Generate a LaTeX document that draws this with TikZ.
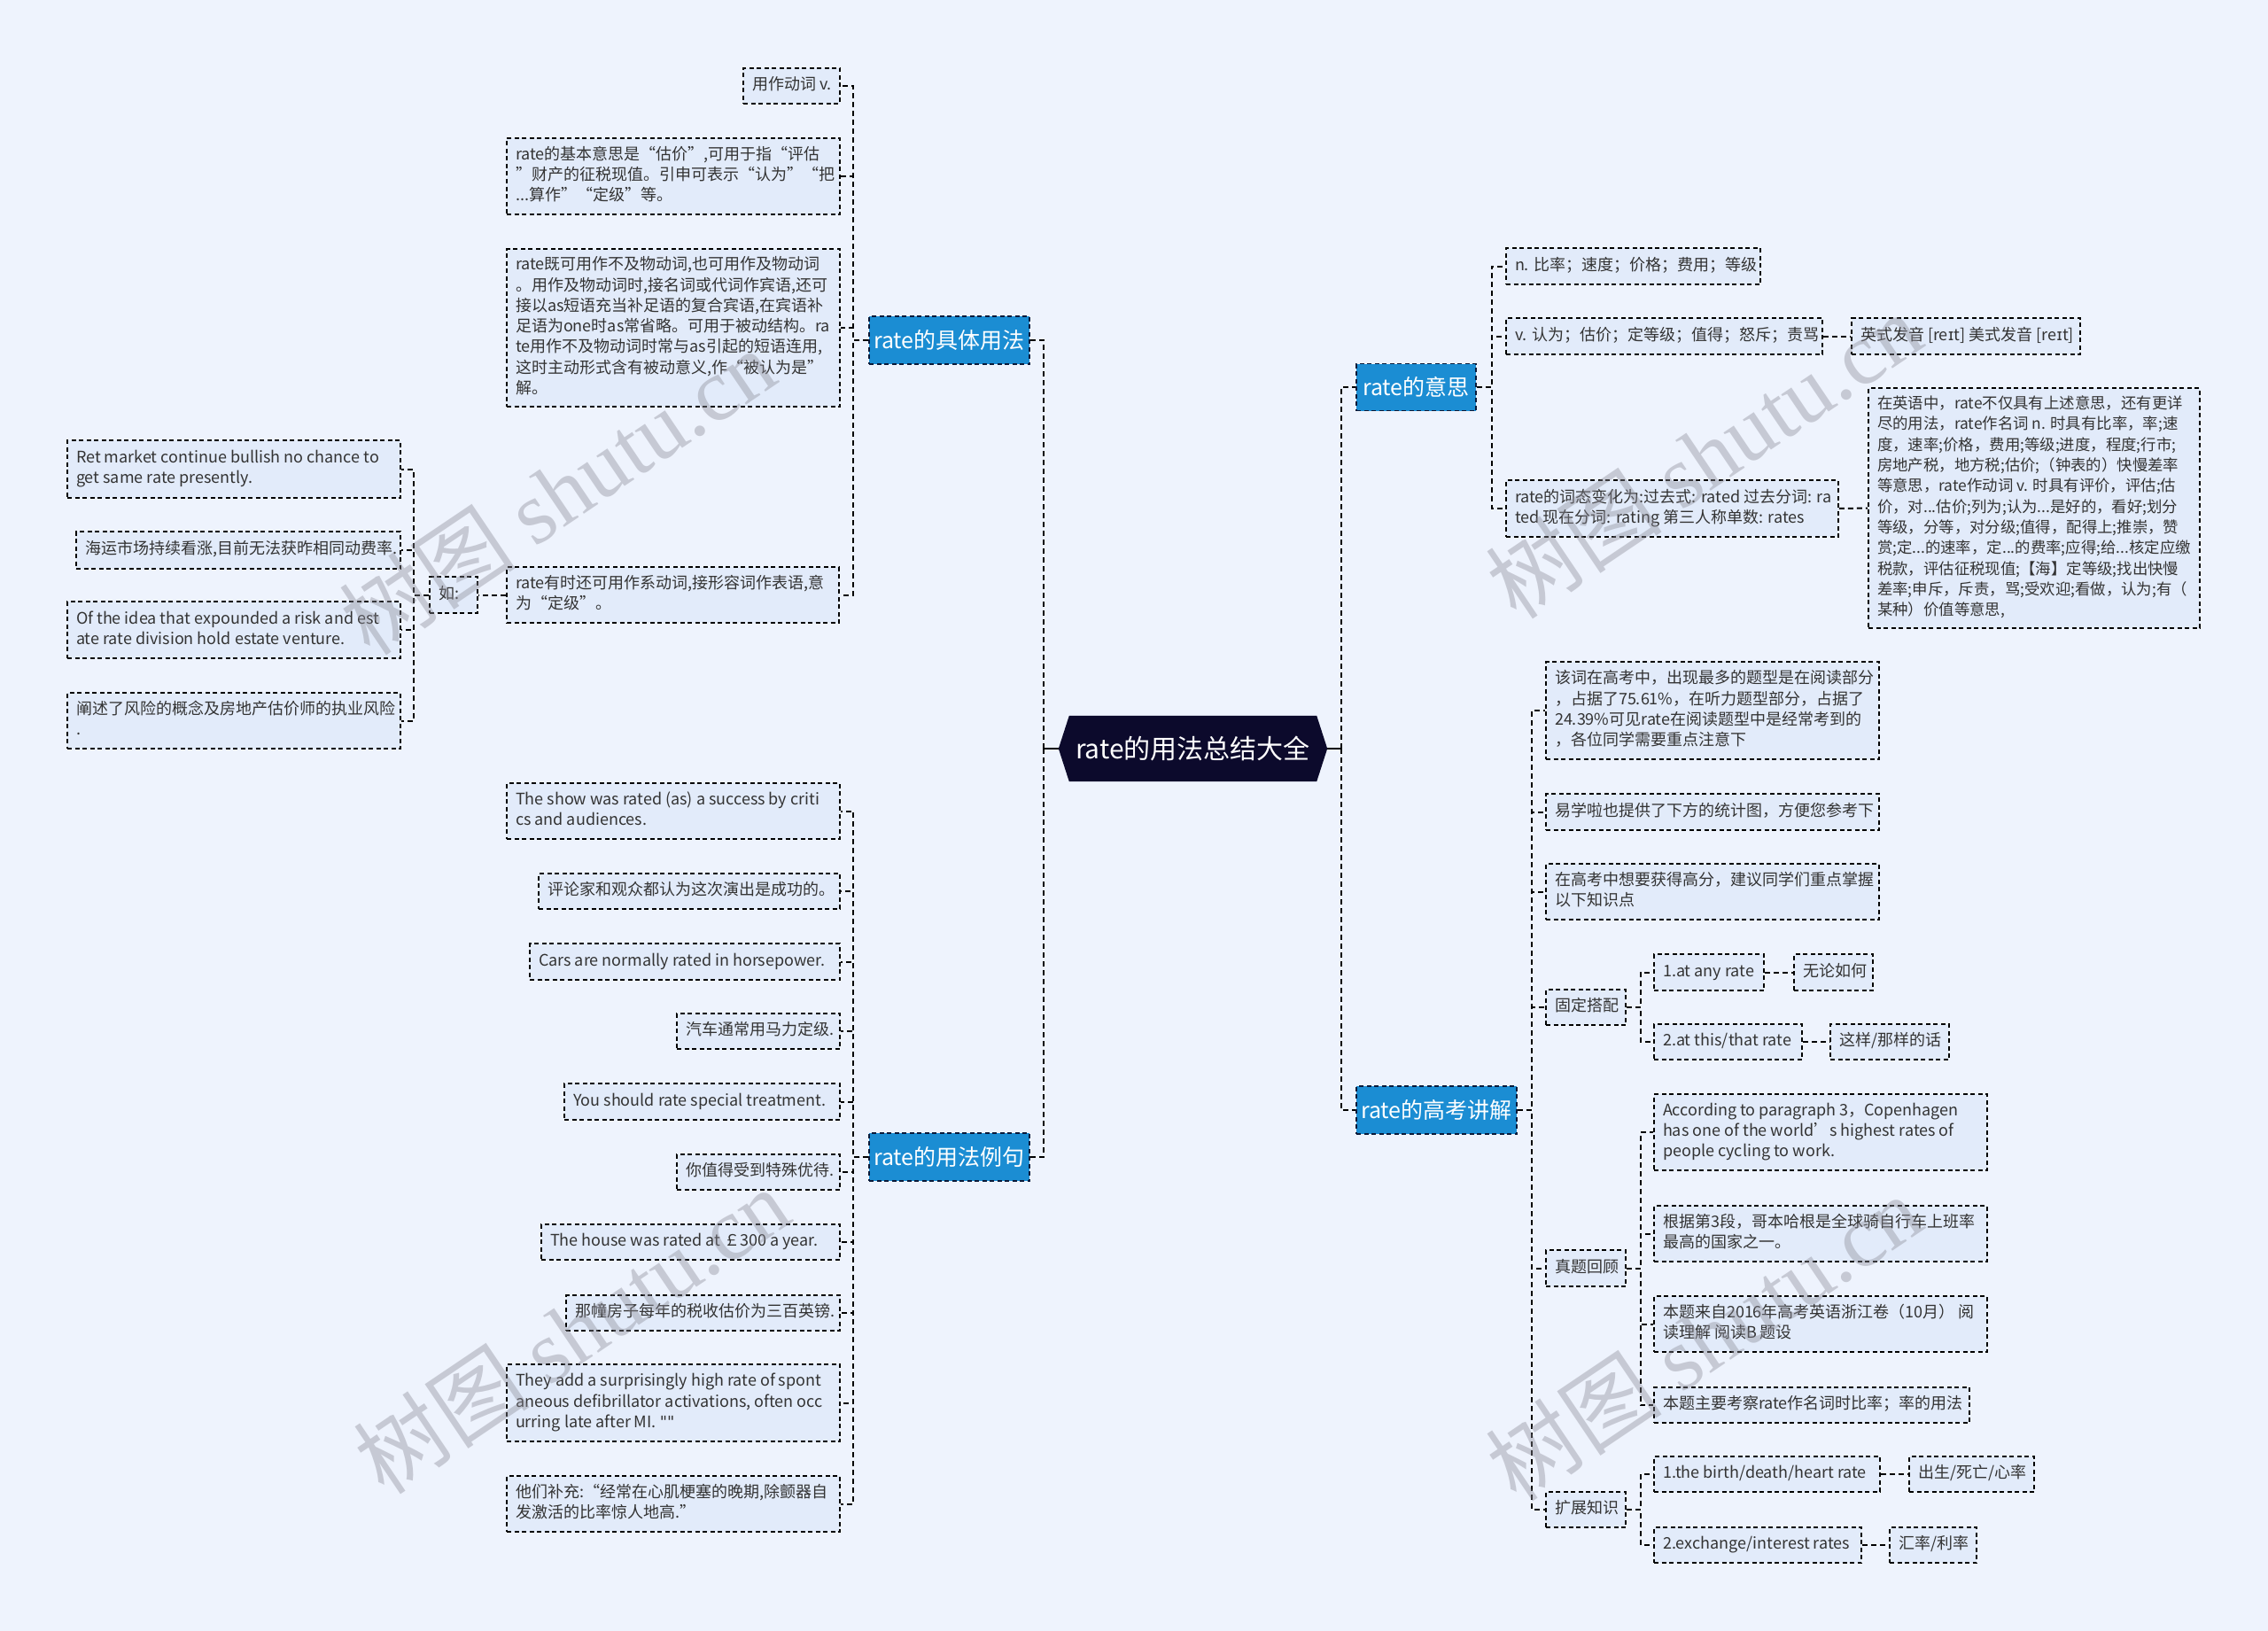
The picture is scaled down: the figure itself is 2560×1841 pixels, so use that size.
\documentclass[tikz,border=0pt]{standalone}
\usepackage{fontspec}
\setmainfont{Noto Sans CJK SC}
\newfontfamily\wmlatin{Liberation Serif}
\newfontfamily\ipafont{DejaVu Sans}
\usetikzlibrary{backgrounds}
\definecolor{bgc}{HTML}{EEF3FD}
\definecolor{leaffill}{HTML}{E2EBFA}
\definecolor{bluefill}{HTML}{1B8DD3}
\definecolor{navy}{HTML}{0C0A2C}
\definecolor{bordernavy}{HTML}{0A1A3A}
\definecolor{textc}{HTML}{333333}
\definecolor{wmgray}{HTML}{8C8C98}
\tikzset{
  leaf/.style={draw=black, dash pattern=on 5pt off 3.5pt, line width=1.6pt, fill=leaffill,
    inner xsep=10pt, inner ysep=0pt, text=textc, font=\fontsize{18}{23.3}\selectfont},
  branch/.style={draw=bordernavy, dash pattern=on 5pt off 3.5pt, line width=1.6pt, fill=bluefill,
    inner sep=0pt, text=white, font=\fontsize{25}{30}\selectfont},
  rootnode/.style={inner sep=0pt, text=white, font=\fontsize{30}{36}\selectfont,
    minimum width=303pt, minimum height=74pt},
  conn/.style={draw=black, line width=2pt, dash pattern=on 6pt off 4pt},
  stub/.style={draw=black, line width=2pt},
  wm/.style={text=wmgray, opacity=0.4, font=\fontsize{100}{110}\selectfont, rotate=34, inner sep=0pt}
}
\newcommand\leafbox[7][]{%
  \pgfmathsetmacro\lbw{#5-#3-20}%
  \pgfmathsetmacro\lbh{#6-#4}%
  \pgfmathsetmacro\lbx{(#3+#5)/2}%
  \pgfmathsetmacro\lby{(#4+#6)/2}%
  \node[leaf, #1, minimum height=\lbh pt] (#2) at (\lbx,\lby) {\makebox[\lbw pt][l]{\begin{tabular}{@{}l@{}}#7\end{tabular}}};}
\begin{document}
\begin{tikzpicture}[x=1pt,y=-1pt]
\useasboundingbox (0,0) rectangle (2560,1841);
% root and branches
\node[rootnode] (root) at (1346.5,845) {rate的用法总结大全};
\node[branch, minimum width=181pt, minimum height=54pt] (b1) at (1071.5,384) {rate的具体用法};
\node[branch, minimum width=181pt, minimum height=54pt] (b2) at (1071.5,1306) {rate的用法例句};
\node[branch, minimum width=135pt, minimum height=53pt] (b3) at (1598.5,437) {rate的意思};
\node[branch, minimum width=181pt, minimum height=54pt] (b4) at (1621.5,1253) {rate的高考讲解};
\begin{scope}[on background layer]
\fill[bgc] (0,0) rectangle (2560,1841);
\fill[navy] (root.west) -- ([xshift=12pt]root.north west) -- ([xshift=-12pt]root.north east)
  -- (root.east) -- ([xshift=-12pt]root.south east) -- ([xshift=12pt]root.south west) -- cycle;
\end{scope}
% ---- rate的具体用法
\leafbox{a1}{839}{77}{948}{117}{用作动词 v.}
\leafbox{a2}{572}{156}{948}{242}{rate的基本意思是“估价”,可用于指“评估\\”财产的征税现值。引申可表示“认为”“把\\...算作”“定级”等。}
\leafbox{a3}{572}{281}{948}{459}{rate既可用作不及物动词,也可用作及物动词\\。用作及物动词时,接名词或代词作宾语,还可\\接以as短语充当补足语的复合宾语,在宾语补\\足语为one时as常省略。可用于被动结构。ra\\te用作不及物动词时常与as引起的短语连用,\\这时主动形式含有被动意义,作“被认为是”\\解。}
\leafbox{a4}{572}{640}{947}{703}{rate有时还可用作系动词,接形容词作表语,意\\为“定级”。}
\leafbox{ru}{485}{651}{539}{692}{如:}
\leafbox{r1}{76}{497}{452}{562}{Ret market continue bullish no chance to\\get same rate presently.}
\leafbox{r2}{86}{600}{452}{642}{海运市场持续看涨,目前无法获昨相同动费率.}
\leafbox{r3}{76}{679}{452}{743}{Of the idea that expounded a risk and est\\ate rate division hold estate venture.}
\leafbox{r4}{76}{782}{452}{845}{阐述了风险的概念及房地产估价师的执业风险\\.}
% ---- rate的用法例句
\leafbox{e1}{572}{884}{948}{947}{The show was rated (as) a success by criti\\cs and audiences.}
\leafbox{e2}{608}{986}{948}{1026}{评论家和观众都认为这次演出是成功的。}
\leafbox{e3}{598}{1065}{948}{1106}{Cars are normally rated in horsepower.}
\leafbox{e4}{764}{1144}{948}{1184}{汽车通常用马力定级.}
\leafbox{e5}{637}{1223}{948}{1264}{You should rate special treatment.}
\leafbox{e6}{764}{1303}{948}{1343}{你值得受到特殊优待.}
\leafbox{e7}{611}{1382}{948}{1422}{The house was rated at ￡300 a year.}
\leafbox{e8}{639}{1462}{948}{1502}{那幢房子每年的税收估价为三百英镑.}
\leafbox{e9}{572}{1540}{948}{1627}{They add a surprisingly high rate of spont\\aneous defibrillator activations, often occ\\urring late after MI. {\ipafont ""}}
\leafbox{e10}{572}{1666}{948}{1729}{他们补充:“经常在心肌梗塞的晚期,除颤器自\\发激活的比率惊人地高.”}
% ---- rate的意思
\leafbox{m1}{1700}{280}{1987}{321}{n. 比率；速度；价格；费用；等级}
\leafbox{m2}{1700}{359}{2057}{400}{v. 认为；估价；定等级；值得；怒斥；责骂}
\leafbox{m2a}{2090}{359}{2348}{400}{英式发音 [re{\ipafont ɪ}t] 美式发音 [re{\ipafont ɪ}t]}
\leafbox{m3}{1700}{542}{2075}{606}{rate的词态变化为:过去式: rated 过去分词: ra\\ted 现在分词: rating 第三人称单数: rates}
\leafbox[font=\fontsize{17.4}{23.3}\selectfont]{m3a}{2109}{438}{2483}{709}{在英语中，rate不仅具有上述意思，还有更详\\尽的用法，rate作名词 n. 时具有比率，率;速\\度，速率;价格，费用;等级;进度，程度;行市;\\房地产税，地方税;估价;（钟表的）快慢差率\\等意思，rate作动词 v. 时具有评价，评估;估\\价，对...估价;列为;认为...是好的，看好;划分\\等级，分等，对分级;值得，配得上;推崇，赞\\赏;定...的速率，定...的费率;应得;给...核定应缴\\税款，评估征税现值;【海】定等级;找出快慢\\差率;申斥，斥责，骂;受欢迎;看做，认为;有（\\某种）价值等意思,}
% ---- rate的高考讲解
\leafbox{g1}{1745}{747}{2121}{857}{该词在高考中，出现最多的题型是在阅读部分\\，占据了75.61\%，在听力题型部分，占据了\\24.39\%可见rate在阅读题型中是经常考到的\\，各位同学需要重点注意下}
\leafbox{g2}{1745}{896}{2121}{937}{易学啦也提供了下方的统计图，方便您参考下}
\leafbox{g3}{1745}{975}{2121}{1038}{在高考中想要获得高分，建议同学们重点掌握\\以下知识点}
\leafbox{g4}{1745}{1117}{1835}{1157}{固定搭配}
\leafbox{g41}{1867}{1077}{1991}{1118}{1.at any rate}
\leafbox{g41a}{2025}{1077}{2114}{1118}{无论如何}
\leafbox{g42}{1867}{1156}{2034}{1196}{2.at this/that rate}
\leafbox{g42a}{2066}{1156}{2200}{1196}{这样/那样的话}
\leafbox{g5}{1745}{1411}{1835}{1452}{真题回顾}
\leafbox{g51}{1867}{1235}{2243}{1321}{According to paragraph 3，Copenhagen\\has one of the world’s highest rates of\\people cycling to work.}
\leafbox{g52}{1867}{1361}{2243}{1424}{根据第3段，哥本哈根是全球骑自行车上班率\\最高的国家之一。}
\leafbox{g53}{1867}{1463}{2243}{1526}{本题来自2016年高考英语浙江卷（10月） 阅\\读理解 阅读B 题设}
\leafbox{g54}{1867}{1566}{2223}{1606}{本题主要考察rate作名词时比率；率的用法}
\leafbox{g6}{1745}{1684}{1835}{1724}{扩展知识}
\leafbox{g61}{1867}{1644}{2122}{1684}{1.the birth/death/heart rate}
\leafbox{g61a}{2155}{1644}{2296}{1684}{出生/死亡/心率}
\leafbox{g62}{1867}{1724}{2101}{1764}{2.exchange/interest rates}
\leafbox{g62a}{2133}{1724}{2231}{1764}{汇率/利率}
% ---- connectors
\draw[stub] (root.west) -- ++(-17,0) coordinate (rl);
\draw[stub] (root.east) -- ++(16,0) coordinate (rr);
\foreach \b in {b1,b2} \draw[conn] (rl) |- (\b.east);
\foreach \b in {b3,b4} \draw[conn] (rr) |- (\b.west);
\foreach \c in {a1,a2,a3,a4} \draw[conn] (b1.west) -- ++(-17,0) |- (\c.east);
\draw[conn] (a4.west) -- (ru.east);
\foreach \c in {r1,r2,r3,r4} \draw[conn] (ru.west) -- ++(-17,0) |- (\c.east);
\foreach \c in {e1,e2,e3,e4,e5,e6,e7,e8,e9,e10} \draw[conn] (b2.west) -- ++(-17,0) |- (\c.east);
\foreach \c in {m1,m2,m3} \draw[conn] (b3.east) -- ++(17,0) |- (\c.west);
\draw[conn] (m2.east) -- (m2a.west);
\draw[conn] (m3.east) -- (m3a.west);
\foreach \c in {g1,g2,g3,g4,g5,g6} \draw[conn] (b4.east) -- ++(16,0) |- (\c.west);
\foreach \c in {g41,g42} \draw[conn] (g4.east) -- ++(16,0) |- (\c.west);
\draw[conn] (g41.east) -- (g41a.west);
\draw[conn] (g42.east) -- (g42a.west);
\foreach \c in {g51,g52,g53,g54} \draw[conn] (g5.east) -- ++(16,0) |- (\c.west);
\foreach \c in {g61,g62} \draw[conn] (g6.east) -- ++(16,0) |- (\c.west);
\draw[conn] (g61.east) -- (g61a.west);
\draw[conn] (g62.east) -- (g62a.west);
% ---- watermarks
\node[wm] (wm1) at (629,555) {树图 {\wmlatin shutu.cn}};
\node[wm] (wm2) at (1923,514) {树图 {\wmlatin shutu.cn}};
\node[wm] (wm3) at (645,1502) {树图 {\wmlatin shutu.cn}};
\node[wm] (wm4) at (1923,1510) {树图 {\wmlatin shutu.cn}};
\end{tikzpicture}
\end{document}
